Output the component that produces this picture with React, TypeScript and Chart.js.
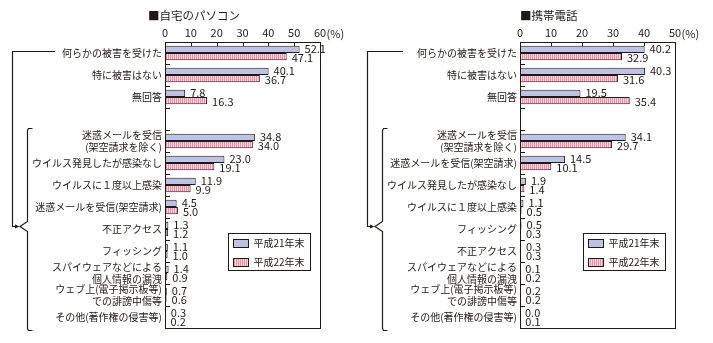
import React, { useEffect, useRef } from "react";
import { Chart, registerables } from "chart.js";

Chart.register(...registerables);

const FONT = '"Noto Sans CJK JP", "Noto Sans", sans-serif';
const INK = "#231815";

const seriesLabels = ["平成21年末", "平成22年末"];

const pcCategories: (string | string[])[] = [
  "何らかの被害を受けた",
  "特に被害はない",
  "無回答",
  "",
  ["迷惑メールを受信", "(架空請求を除く)"],
  "ウイルス発見したが感染なし",
  "ウイルスに１度以上感染",
  "迷惑メールを受信(架空請求)",
  "不正アクセス",
  "フィッシング",
  ["スパイウェアなどによる", "個人情報の漏洩"],
  ["ウェブ上(電子掲示板等)", "での誹謗中傷等"],
  "その他(著作権の侵害等)",
];
const pc21 = [52.1, 40.1, 7.8, null, 34.8, 23.0, 11.9, 4.5, 1.3, 1.1, 1.4, 0.7, 0.3];
const pc22 = [47.1, 36.7, 16.3, null, 34.0, 19.1, 9.9, 5.0, 1.2, 1.0, 0.9, 0.6, 0.2];

const mobileCategories: (string | string[])[] = [
  "何らかの被害を受けた",
  "特に被害はない",
  "無回答",
  "",
  ["迷惑メールを受信", "(架空請求を除く)"],
  "迷惑メールを受信(架空請求)",
  "ウイルス発見したが感染なし",
  "ウイルスに１度以上感染",
  "フィッシング",
  "不正アクセス",
  ["スパイウェアなどによる", "個人情報の漏洩"],
  ["ウェブ上(電子掲示板等)", "での誹謗中傷等"],
  "その他(著作権の侵害等)",
];
const mobile21 = [40.2, 40.3, 19.5, null, 34.1, 14.5, 1.9, 1.1, 0.5, 0.3, 0.1, 0.2, 0.0];
const mobile22 = [32.9, 31.6, 35.4, null, 29.7, 10.1, 1.4, 0.5, 0.3, 0.3, 0.2, 0.2, 0.1];

const pcMax = 60;
const mobileMax = 50;
const tickStep = 10;
const unitLabel = "(%)";

function makeStripe(): CanvasPattern | string {
  const c = document.createElement("canvas");
  c.width = 2;
  c.height = 2;
  const g = c.getContext("2d");
  if (!g) return "#f4a9b8";
  g.fillStyle = "#ee93a7";
  g.fillRect(0, 0, 1, 2);
  g.fillStyle = "#fbd2db";
  g.fillRect(1, 0, 1, 2);
  return g.createPattern(c, "repeat") || "#f4a9b8";
}

type PanelProps = {
  left: number;
  width: number;
  title: string;
  titleDx: number;
  categories: (string | string[])[];
  d21: (number | null)[];
  d22: (number | null)[];
  max: number;
  yWidth: number;
  padRight: number;
  lineEnd: number;
};

function Panel(p: PanelProps) {
  const ref = useRef<HTMLCanvasElement | null>(null);

  useEffect(() => {
    if (!ref.current) return;
    const stripe = makeStripe();
    const blue = "#bcc3e5";

    const decor = {
      id: "decor",
      afterDatasetsDraw(chart: any) {
        const ctx = chart.ctx;
        const a = chart.chartArea;
        const xs = chart.scales.x;
        const ys = chart.scales.y;
        ctx.save();
        // value labels
        ctx.font = `11px ${FONT}`;
        ctx.fillStyle = INK;
        ctx.textAlign = "left";
        ctx.textBaseline = "middle";
        chart.data.datasets.forEach((ds: any, di: number) => {
          const meta = chart.getDatasetMeta(di);
          meta.data.forEach((el: any, i: number) => {
            const v = ds.data[i];
            if (v == null) return;
            const pr = el.getProps(["x", "y"], true);
            if (!isFinite(pr.x) || !isFinite(pr.y)) return;
            ctx.fillText(v.toFixed(1), pr.x + 5, pr.y + (di === 0 ? -0.5 : 1.5));
          });
        });
        ctx.restore();
      },
      afterDraw(chart: any) {
        const ctx = chart.ctx;
        const a = chart.chartArea;
        const xs = chart.scales.x;
        const ys = chart.scales.y;
        const L = a.left;
        ctx.save();
        ctx.strokeStyle = INK;
        ctx.lineWidth = 1;
        // plot box
        ctx.strokeRect(Math.round(a.left) + 0.5, Math.round(a.top) + 0.5, Math.round(a.right - a.left), Math.round(a.bottom - a.top));
        // inner x ticks
        ctx.beginPath();
        for (let v = tickStep; v < p.max; v += tickStep) {
          const x = Math.round(xs.getPixelForValue(v)) + 0.5;
          ctx.moveTo(x, a.top);
          ctx.lineTo(x, a.top + 4);
        }
        // inner y ticks at category boundaries
        const n = chart.data.labels.length;
        for (let i = 0; i < n - 1; i++) {
          const y = Math.round(ys.getPixelForValue(i + 0.5)) + 0.5;
          ctx.moveTo(a.left, y);
          ctx.lineTo(a.left + 5, y);
        }
        ctx.stroke();

        // unit label after last tick
        ctx.font = `11px ${FONT}`;
        ctx.fillStyle = INK;
        ctx.textAlign = "left";
        ctx.textBaseline = "bottom";
        const xm = xs.getPixelForValue(p.max);
        const w = ctx.measureText(String(p.max)).width;
        ctx.fillText(unitLabel, xm + w / 2 + 0.5, a.top - 3);

        // title
        ctx.font = `11.5px ${FONT}`;
        ctx.textBaseline = "middle";
        ctx.fillText(p.title, L + p.titleDx, 16);

        // legend
        const lw = 82;
        const lh = 37;
        const lx = Math.round(a.right - 10.5 - lw) + 0.5;
        const ly = Math.round(a.top + 191) + 0.5;
        ctx.fillStyle = "#fff";
        ctx.fillRect(lx, ly, lw, lh);
        ctx.strokeRect(lx, ly, lw, lh);
        ctx.font = `10px ${FONT}`;
        chart.data.datasets.forEach((ds: any, di: number) => {
          const cy = ly + 9.5 + di * 18.5;
          ctx.fillStyle = ds.backgroundColor;
          ctx.fillRect(lx + 5, Math.round(cy - 4), 15, 8);
          ctx.strokeStyle = INK;
          ctx.strokeRect(lx + 5, Math.round(cy - 4) + 0.5, 15, 8);
          ctx.fillStyle = INK;
          ctx.fillText(ds.label, lx + 25, cy + 0.5);
        });

        // bracket
        const c0 = ys.getPixelForValue(0);
        const hy = Math.round(c0 - 2) + 0.5;
        const tipY = Math.round(ys.getPixelForValue(8) - 3) + 0.5;
        const vx = Math.round(L - 153) + 0.5;
        const bx = Math.round(L - 138) + 0.5;
        const tipX = L - 145;
        const bTop = Math.round(ys.getPixelForValue(3.5) - 2) + 0.5;
        const bBot = Math.round(a.bottom + 2) + 0.5;
        ctx.strokeStyle = INK;
        ctx.lineWidth = 1.2;
        ctx.beginPath();
        ctx.moveTo(L - p.lineEnd, hy);
        ctx.lineTo(vx, hy);
        ctx.lineTo(vx, tipY);
        ctx.lineTo(L - 149, tipY);
        ctx.stroke();
        ctx.fillStyle = INK;
        ctx.beginPath();
        ctx.moveTo(L - 150, tipY - 2);
        ctx.lineTo(tipX - 0.5, tipY);
        ctx.lineTo(L - 150, tipY + 2);
        ctx.closePath();
        ctx.fill();
        ctx.beginPath();
        ctx.moveTo(bx + 5, bTop);
        ctx.lineTo(bx + 1, bTop);
        ctx.lineTo(bx, bTop + 2);
        ctx.lineTo(bx, tipY - 5);
        ctx.lineTo(tipX, tipY);
        ctx.lineTo(bx, tipY + 5);
        ctx.lineTo(bx, bBot - 2);
        ctx.lineTo(bx + 1, bBot);
        ctx.lineTo(bx + 5, bBot);
        ctx.stroke();
        ctx.restore();
      },
    };

    const chart = new Chart(ref.current, {
      type: "bar",
      data: {
        labels: p.categories as any,
        datasets: [
          {
            label: seriesLabels[0],
            data: p.d21 as any,
            backgroundColor: blue,
            borderColor: INK,
            borderWidth: 1,
            borderSkipped: "start",
          },
          {
            label: seriesLabels[1],
            data: p.d22 as any,
            backgroundColor: stripe as any,
            borderColor: INK,
            borderWidth: 1,
            borderSkipped: "start",
          },
        ],
      },
      options: {
        indexAxis: "y",
        responsive: false,
        animation: false,
        devicePixelRatio: 1,
        layout: { padding: { left: 0, right: p.padRight, top: 0, bottom: 15 } },
        datasets: { bar: { categoryPercentage: 0.65, barPercentage: 1 } },
        plugins: {
          legend: { display: false },
          tooltip: { enabled: false },
          title: { display: false },
        },
        scales: {
          x: {
            position: "top",
            min: 0,
            max: p.max,
            ticks: {
              stepSize: tickStep,
              padding: 3,
              color: INK,
              font: { family: FONT, size: 11 },
              maxRotation: 0,
              autoSkip: false,
            },
            grid: { display: false, drawTicks: false },
            border: { display: false },
            afterFit: (s: any) => {
              s.height = 42;
            },
          },
          y: {
            ticks: {
              padding: 3,
              color: INK,
              font: { family: FONT, size: 10, lineHeight: 1.2 },
              autoSkip: false,
            },
            grid: { display: false, drawTicks: false },
            border: { display: false },
            afterFit: (s: any) => {
              s.width = p.yWidth;
            },
          },
        },
      } as any,
      plugins: [decor],
    });
    return () => chart.destroy();
  }, []);

  return (
    <canvas
      ref={ref}
      width={p.width}
      height={343}
      style={{ position: "absolute", left: p.left, top: 0, width: p.width, height: 343, display: "block" }}
    />
  );
}

export default function App() {
  return (
    <div style={{ position: "absolute", left: 0, top: 0, width: 713, height: 343, background: "#fff" }}>
      <Panel
        left={0}
        width={356}
        title="■自宅のパソコン"
        titleDx={-17}
        categories={pcCategories}
        d21={pc21}
        d22={pc22}
        max={pcMax}
        yWidth={165}
        padRight={36}
        lineEnd={110}
      />
      <Panel
        left={356}
        width={357}
        title="■携帯電話"
        titleDx={0}
        categories={mobileCategories}
        d21={mobile21}
        d22={mobile22}
        max={mobileMax}
        yWidth={164}
        padRight={38}
        lineEnd={117}
      />
    </div>
  );
}
